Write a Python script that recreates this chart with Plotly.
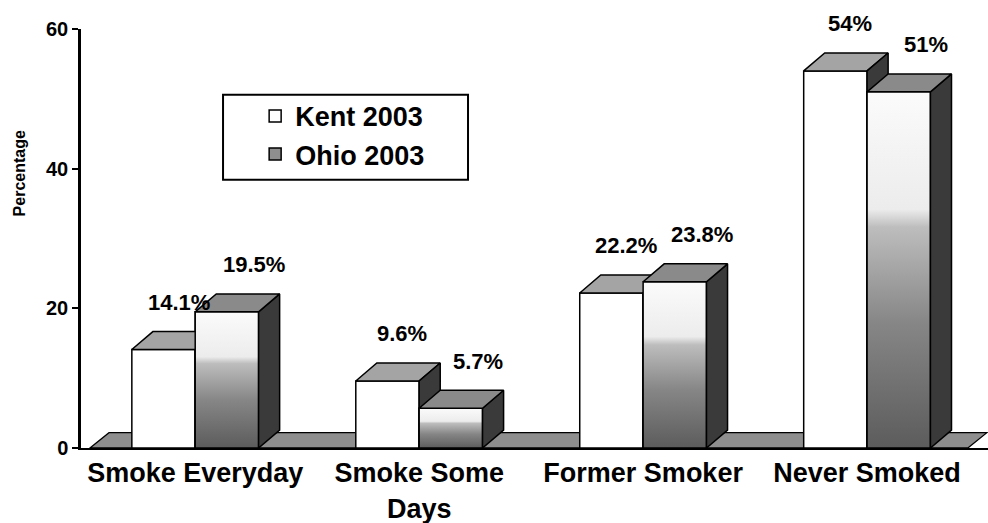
import plotly.graph_objects as go

# ---- data -------------------------------------------------------------
categories = ["Smoke Everyday", "Smoke Some Days", "Former Smoker", "Never Smoked"]
tick_labels = ["Smoke Everyday", "Smoke Some<br>Days", "Former Smoker", "Never Smoked"]
kent_2003 = [14.1, 9.6, 22.2, 54]
ohio_2003 = [19.5, 5.7, 23.8, 51]
kent_labels = ["14.1%", "9.6%", "22.2%", "54%"]
ohio_labels = ["19.5%", "5.7%", "23.8%", "51%"]
y_ticks = [0, 20, 40, 60]

# ---- geometry of the pseudo-3D bars (data units) ------------------------
BAR_W = 0.283           # width of one bar
DX, DY = 0.094, 2.57    # oblique depth offset of bar tops / sides
FLOOR_DX, FLOOR_DY = 0.085, 2.2
X_RANGE = [-0.51, 3.54]

FONT = "Liberation Sans, Arial, sans-serif"
TOP_KENT = "#a4a4a4"
TOP_OHIO = "#8a8a8a"
SIDE = "#3a3a3a"
FLOOR = "#8e8e8e"
EDGE = dict(color="black", width=1.5)

xpos = list(range(len(categories)))
kent_x = [i - BAR_W / 2 for i in xpos]
ohio_x = [i + BAR_W / 2 for i in xpos]

fig = go.Figure()

# front faces of the bars
fig.add_bar(x=kent_x, y=kent_2003, width=BAR_W, name="Kent 2003",
            marker=dict(color="white", line=EDGE), hoverinfo="skip")
fig.add_bar(x=ohio_x, y=ohio_2003, width=BAR_W, name="Ohio 2003",
            marker=dict(color="#8f8f8f", line=EDGE), hoverinfo="skip")


def face(xs, ys, color=None, gradient=None):
    kw = dict(x=xs + [xs[0]], y=ys + [ys[0]], mode="lines", fill="toself",
              line=EDGE, showlegend=False, hoverinfo="skip")
    if gradient is not None:
        kw["fillgradient"] = gradient
    else:
        kw["fillcolor"] = color
    fig.add_trace(go.Scatter(**kw))


ohio_gradient = dict(
    type="vertical",
    colorscale=[[0.0, "#5c5c5c"], [0.35, "#868686"], [0.62, "#bdbdbd"],
                [0.67, "#ececec"], [1.0, "#fbfbfb"]],
)

# depth faces, painted back to front so the Ohio front hides Kent's side
for i in xpos:
    k, o = kent_2003[i], ohio_2003[i]
    xl, xm, xr = i - BAR_W, i, i + BAR_W
    # Kent top and side
    face([xl, xm, xm + DX, xl + DX], [k, k, k + DY, k + DY], TOP_KENT)
    face([xm, xm + DX, xm + DX, xm], [0, DY, k + DY, k], SIDE)
    # Ohio front (shaded), side and top
    face([xm, xr, xr, xm], [0, 0, o, o], gradient=ohio_gradient)
    face([xr, xr + DX, xr + DX, xr], [0, DY, o + DY, o], SIDE)
    face([xm, xr, xr + DX, xm + DX], [o, o, o + DY, o + DY], TOP_OHIO)

# floor slab behind the bars
fx0, fx1 = -0.47, 3.45
fig.add_shape(
    type="path", layer="below", xref="x", yref="y",
    path=(f"M{fx0},0 L{fx1},0 L{fx1 + FLOOR_DX},{FLOOR_DY} "
          f"L{fx0 + FLOOR_DX},{FLOOR_DY} Z"),
    fillcolor=FLOOR, line=dict(color="black", width=1.3),
)

# value labels
label_font = dict(family=FONT, size=22, color="black", weight="bold")
for i in xpos:
    fig.add_annotation(x=kent_x[i], y=kent_2003[i], text=kent_labels[i],
                       showarrow=False, xshift=15, yshift=47, font=label_font)
    fig.add_annotation(x=ohio_x[i], y=ohio_2003[i], text=ohio_labels[i],
                       showarrow=False, xshift=27, yshift=47, font=label_font)

# y axis title
fig.add_annotation(xref="paper", yref="paper", x=-0.079, y=0.655,
                   text="Percentage", textangle=-90, showarrow=False,
                   font=dict(family=FONT, size=16, color="black", weight="bold"))

# legend frame
fig.add_shape(type="rect", xref="paper", yref="paper",
              x0=0.1566, x1=0.4267, y0=0.64, y1=0.843,
              line=dict(color="black", width=2), fillcolor="rgba(0,0,0,0)")

fig.update_layout(
    width=988, height=523,
    margin=dict(l=81, r=0, t=29, b=75),
    paper_bgcolor="white", plot_bgcolor="white",
    barmode="overlay",
    showlegend=True,
    legend=dict(x=0.192, y=0.85, xanchor="left", yanchor="top",
                bgcolor="rgba(0,0,0,0)", borderwidth=0,
                font=dict(family=FONT, size=27, color="black", weight="bold"),
                tracegroupgap=0, itemclick=False, itemdoubleclick=False),
    font=dict(family=FONT, color="black"),
    xaxis=dict(range=X_RANGE, tickvals=xpos, ticktext=tick_labels,
               automargin=False, showgrid=False, zeroline=False, ticks="",
               ticklabelstandoff=0,
               showline=True, linewidth=2, linecolor="black",
               tickfont=dict(family=FONT, size=27, color="black", weight="bold")),
    yaxis=dict(range=[0, 60], tickvals=y_ticks, showgrid=False, zeroline=False,
               automargin=False,
               showline=True, linewidth=2.5, linecolor="black",
               ticks="outside", ticklen=6, tickwidth=2, tickcolor="black",
               tickfont=dict(family=FONT, size=20, color="black", weight="bold")),
)

fig.write_html("out.html")
